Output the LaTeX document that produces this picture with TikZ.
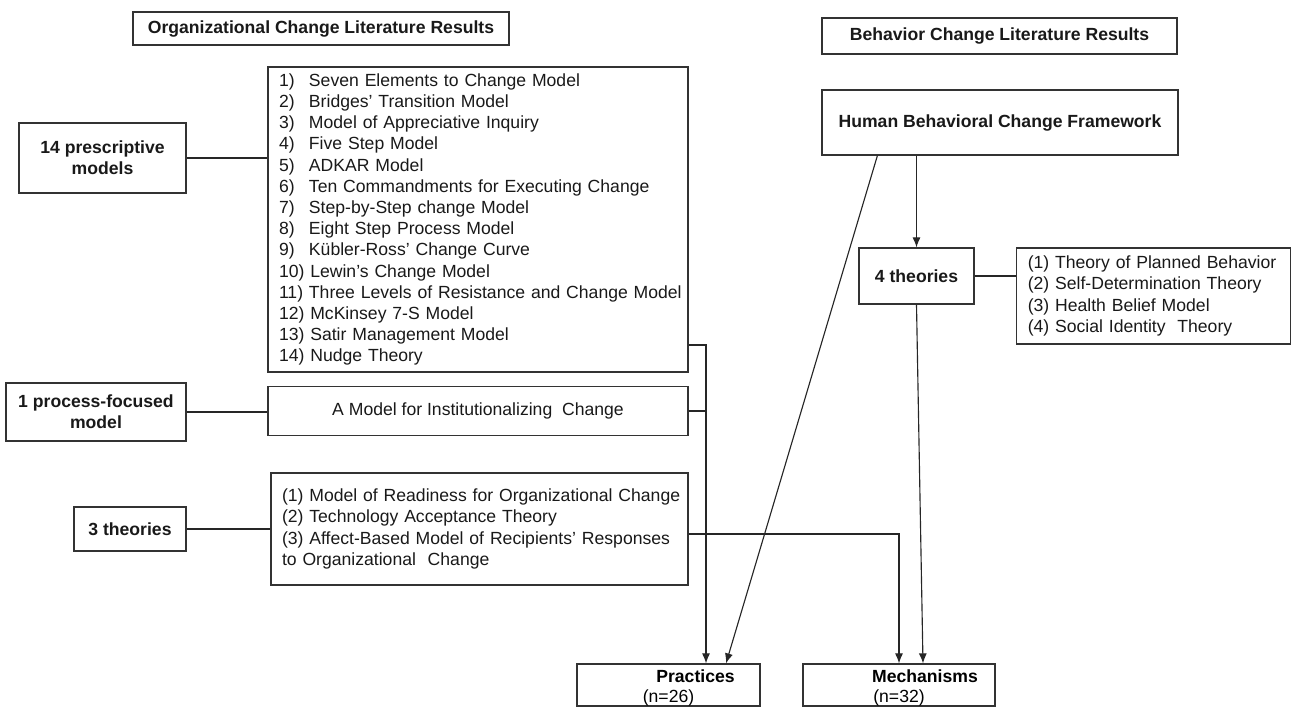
\documentclass[tikz,border=0pt]{standalone}
\usepackage{fontspec}
\setmainfont{Liberation Sans}
\usepackage{tikz}
\usetikzlibrary{arrows.meta, positioning, calc}

\newcommand{\itm}[2]{\makebox[22.5pt][l]{#1}#2}

\tikzset{
  box/.style={rectangle, draw=black!80, line width=0.9pt, inner sep=0pt, text=black!90, font=\fontsize{13.2}{15.9}\selectfont},
  hbox/.style={box, align=center, font=\fontsize{13.2}{15.9}\selectfont\bfseries},
  lbox/.style={box, align=left},
  link/.style={draw=black!85, line width=0.85pt},
  tip/.style={-{Latex[length=7.5pt, width=6pt]}},
}

\begin{document}
\begin{tikzpicture}[x=0.75pt, y=-0.75pt]
\useasboundingbox (0,0) rectangle (1292,708);

% Headers
\node[hbox, minimum width=282pt, minimum height=24.75pt] (orghead) at (321,28.5) {Organizational Change Literature Results};
\node[hbox, minimum width=266.25pt, minimum height=27pt] (behhead) at (999.5,36) {Behavior Change Literature Results};

% Organizational change side
\node[hbox, minimum width=125.25pt, minimum height=52.5pt] (presc) at (102.5,158) {14 prescriptive\\models};
\node[lbox, text width=298.5pt, minimum width=315pt, minimum height=228.75pt] (presclist) at (478,219.5) {%
\itm{1)}{Seven Elements to Change Model}\\
\itm{2)}{Bridges’ Transition Model}\\
\itm{3)}{Model of Appreciative Inquiry}\\
\itm{4)}{Five Step Model}\\
\itm{5)}{ADKAR Model}\\
\itm{6)}{Ten Commandments for Executing Change}\\
\itm{7)}{Step-by-Step change Model}\\
\itm{8)}{Eight Step Process Model}\\
\itm{9)}{Kübler-Ross’ Change Curve}\\
10) Lewin’s Change Model\\
\mbox{11) Three Levels of Resistance and Change Model}\\
12) McKinsey 7-S Model\\
13) Satir Management Model\\
14) Nudge Theory};

\node[hbox, minimum width=135pt, minimum height=43.5pt] (proc) at (96,412) {1 process-focused\\model};
\node[box, minimum width=315pt, minimum height=36.75pt] (proclist) at (478,411) {A Model for Institutionalizing\ \ Change};

\node[hbox, minimum width=84pt, minimum height=33pt] (theo) at (130,529) {3 theories};
\node[lbox, text width=296.25pt, minimum width=312.75pt, minimum height=84pt] (theolist) at (479.5,529) {%
\mbox{(1) Model of Readiness for Organizational Change}\\
(2) Technology Acceptance Theory\\
(3) Affect-Based Model of Recipients’ Responses\\
to Organizational\ \ Change};

% Behavior change side
\node[hbox, minimum width=267pt, minimum height=48.75pt] (hbcf) at (1000,122.5) {Human Behavioral Change Framework};
\node[hbox, minimum width=86.25pt, minimum height=42pt] (four) at (916.5,276) {4 theories};
\node[lbox, text width=189pt, minimum width=205.5pt, minimum height=72pt] (fourlist) at (1153.75,296) {%
(1) Theory of Planned Behavior\\
(2) Self-Determination Theory\\
(3) Health Belief Model\\
(4) Social Identity\ \ Theory};

% Outcomes
\node[box, minimum width=137.25pt, minimum height=31.5pt] (practices) at (668.5,685) {};
\node[font=\fontsize{13.2}{15.9}\selectfont\bfseries, inner sep=0pt] (practxt) at ($(practices.center)+(27,-9)$) {Practices};
\node[font=\fontsize{13.2}{15.9}\selectfont, inner sep=0pt] (pracn) at ($(practices.center)+(0,13)$) {(n=26)};
\node[box, minimum width=144pt, minimum height=31.5pt] (mechanisms) at (899,685) {};
\node[font=\fontsize{13.2}{15.9}\selectfont\bfseries, inner sep=0pt] (mechtxt) at ($(mechanisms.center)+(26,-9)$) {Mechanisms};
\node[font=\fontsize{13.2}{15.9}\selectfont, inner sep=0pt] (mechn) at ($(mechanisms.center)+(0,13)$) {(n=32)};

% Connectors
\draw[link] (presc.east) -- (presc.east -| presclist.west);
\draw[link] (proc.east) -- (proc.east -| proclist.west);
\draw[link] (theo.east) -- (theo.east -| theolist.west);
\draw[link] (four.east) -- (four.east -| fourlist.west);
\draw[link, tip] (hbcf.south -| four.north) -- (four.north);

\coordinate (trunk) at (706,345);
\draw[link, tip] (presclist.east |- trunk) -- (trunk) -- (trunk |- practices.north);
\draw[link] (proclist.east) -- (proclist.east -| trunk);
\draw[link, tip] ($(theolist.east)+(0,5)$) -| (mechanisms.north);
\draw[link, tip] (four.south) -- ($(mechanisms.north)+(24,0)$);
\draw[link, tip] ($(hbcf.south west)+(56,0)$) -- ($(practices.north)+(57.5,0)$);
\end{tikzpicture}
\end{document}
